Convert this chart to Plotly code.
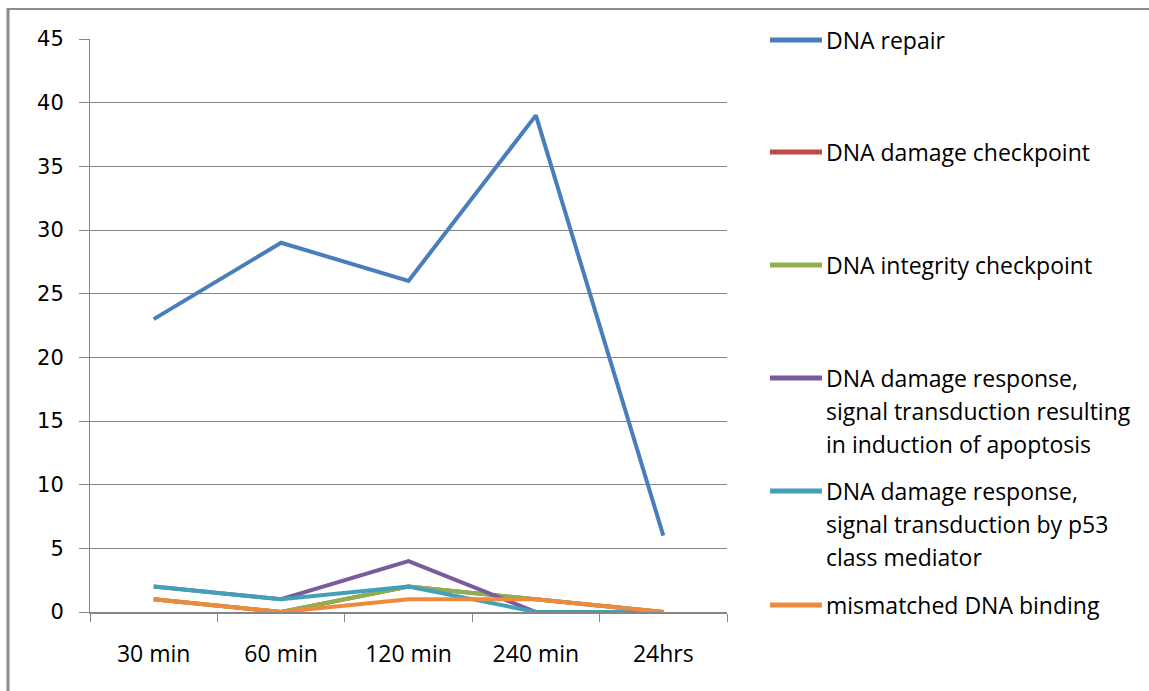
import plotly.graph_objects as go

# ---- data ----
categories = ["30 min", "60 min", "120 min", "240 min", "24hrs"]
dna_repair = [23, 29, 26, 39, 6]
dna_damage_checkpoint = [1, 0, 2, 1, 0]
dna_integrity_checkpoint = [1, 0, 2, 1, 0]
damage_response_apoptosis = [2, 1, 4, 0, 0]
damage_response_p53 = [2, 1, 2, 0, 0]
mismatched_dna_binding = [1, 0, 1, 1, 0]

series_names = [
    ["DNA repair"],
    ["DNA damage checkpoint"],
    ["DNA integrity checkpoint"],
    ["DNA damage response,", "signal transduction resulting", "in induction of apoptosis"],
    ["DNA damage response,", "signal transduction by p53", "class mediator"],
    ["mismatched DNA binding"],
]
series_values = [dna_repair, dna_damage_checkpoint, dna_integrity_checkpoint,
                 damage_response_apoptosis, damage_response_p53, mismatched_dna_binding]
colors = ["#4A7EBB", "#BE4B48", "#8FB04E", "#7A5B9C", "#43A0BA", "#EE8A3C"]

W, H = 1149, 691
L, R, T, B = 90, 422, 39, 79
PW, PH = W - L - R, H - T - B


def xp(px):
    return (px - L) / PW


def yp(py):
    return (H - B - py) / PH


FONT = "'Open Sans', Carlito, Lato, sans-serif"

fig = go.Figure()
for name, vals, col in zip(series_names, series_values, colors):
    fig.add_trace(go.Scatter(x=categories, y=vals, mode="lines", name=" ".join(name),
                             line=dict(color=col, width=4), showlegend=False))

# manual legend (Excel style, evenly spaced first lines)
first_line_y = [40, 152, 265, 378, 491, 605]
line_gap = 33
shapes = []
annotations = []
for name, col, y0 in zip(series_names, colors, first_line_y):
    shapes.append(dict(type="line", xref="paper", yref="paper",
                       x0=xp(770), x1=xp(822), y0=yp(y0), y1=yp(y0),
                       line=dict(color=col, width=5)))
    for i, t in enumerate(name):
        annotations.append(dict(xref="paper", yref="paper", x=xp(824), y=yp(y0 + i * line_gap),
                                xanchor="left", yanchor="middle", text=t, showarrow=False,
                                font=dict(family=FONT, size=23, color="#000000")))

# outer frame lines
shapes.append(dict(type="line", xref="paper", yref="paper", x0=xp(8), x1=xp(8),
                   y0=yp(8), y1=yp(H + 2), line=dict(color="#8C8C8C", width=3)))
shapes.append(dict(type="line", xref="paper", yref="paper", x0=xp(7), x1=xp(W + 2),
                   y0=yp(9), y1=yp(9), line=dict(color="#8C8C8C", width=2)))

fig.update_layout(
    width=W, height=H,
    margin=dict(l=L, r=R, t=T, b=B, pad=0),
    paper_bgcolor="white", plot_bgcolor="white",
    shapes=shapes, annotations=annotations,
    font=dict(family=FONT, size=20, color="#000000"),
)
fig.update_xaxes(type="category", range=[-0.5, 4.5], showline=True, linecolor="#868686", linewidth=2,
                 ticks="outside", tickson="boundaries", ticklen=8, tickcolor="#868686", tickwidth=1,
                 showgrid=False, zeroline=False, ticklabelstandoff=20,
                 tickfont=dict(family=FONT, size=23, color="#000000"))
fig.update_yaxes(range=[0, 45], dtick=5, showline=True, linecolor="#868686", linewidth=1,
                 ticks="outside", ticklen=10, tickcolor="#868686", tickwidth=1,
                 showgrid=True, gridcolor="#868686", gridwidth=1, zeroline=False,
                 ticklabelstandoff=11,
                 tickfont=dict(family="'DejaVu Sans', Verdana, sans-serif", size=21, color="#000000"))

fig.write_html("out.html")
